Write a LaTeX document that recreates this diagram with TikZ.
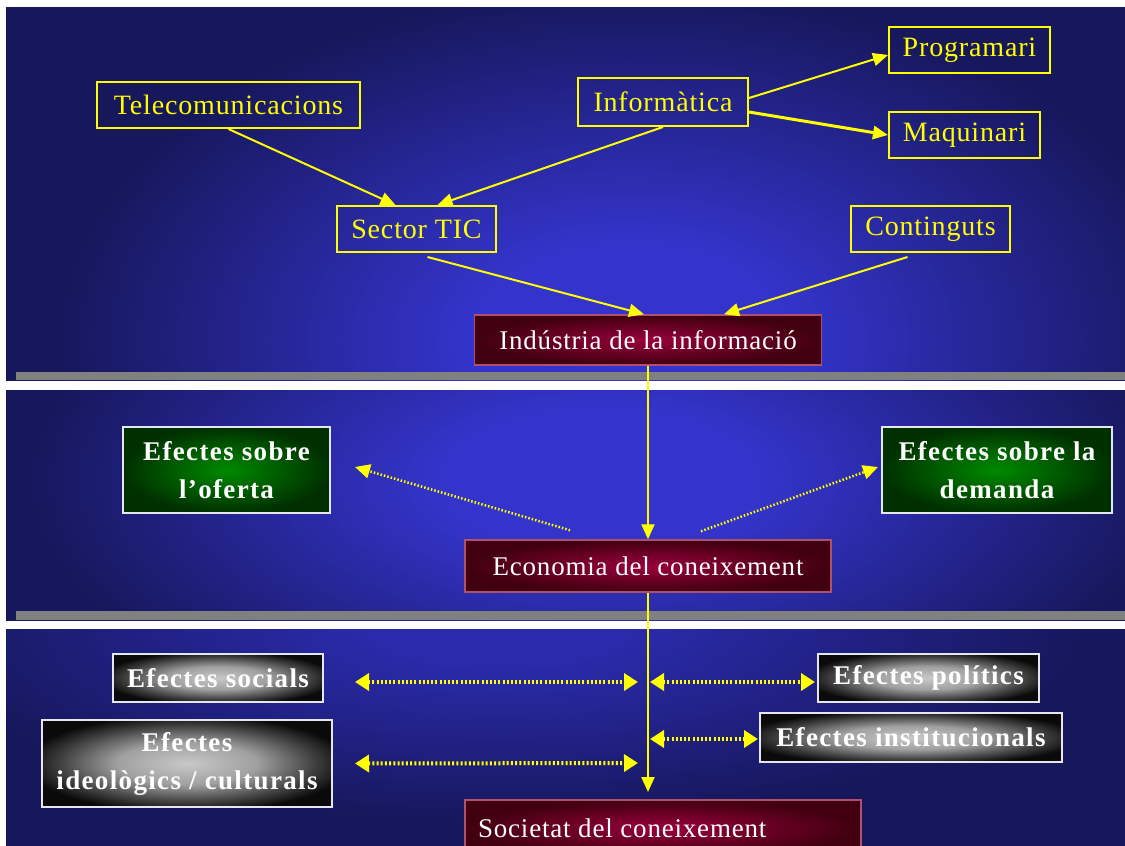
\documentclass[tikz,border=0pt]{standalone}
\usepackage{fontspec}
\setmainfont{Liberation Serif}
\newfontfamily\yfont[LetterSpace=3]{Liberation Serif}
\newfontfamily\bfont[LetterSpace=5]{Liberation Serif Bold}
\usetikzlibrary{arrows.meta,calc}
\definecolor{navy}{HTML}{17175C}
\definecolor{brightblue}{HTML}{3434CC}
\definecolor{midblue}{HTML}{2A2AAA}
\definecolor{ylw}{HTML}{FFFF00}
\definecolor{maroonin}{HTML}{9A003C}
\definecolor{maroonout}{HTML}{40000F}
\definecolor{maroonedge}{HTML}{B05070}
\definecolor{greenin}{HTML}{008A00}
\definecolor{greenout}{HTML}{003000}
\definecolor{grayin}{HTML}{C8C8C8}
\definecolor{grayhi}{HTML}{A0A0A0}
\definecolor{graymid}{HTML}{404040}
\definecolor{grayout}{HTML}{0A0A0A}
\definecolor{boxedge}{HTML}{E6E6F0}
\definecolor{barcol}{HTML}{808080}
\pgfdeclareradialshading{bluepanel}{\pgfpointorigin}{color(0bp)=(brightblue); color(6bp)=(brightblue); color(22bp)=(navy); color(50bp)=(navy)}
\pgfdeclareradialshading{bluepanelb}{\pgfpointorigin}{color(0bp)=(midblue); color(5bp)=(midblue); color(21bp)=(navy); color(50bp)=(navy)}
\pgfdeclareradialshading{maroonsh}{\pgfpointorigin}{color(0bp)=(maroonin); color(25bp)=(maroonout); color(50bp)=(maroonout)}
\pgfdeclareradialshading{greensh}{\pgfpointorigin}{color(0bp)=(greenin); color(25bp)=(greenout); color(50bp)=(greenout)}
\pgfdeclareradialshading{graysh}{\pgfpointorigin}{color(0bp)=(grayin); color(12bp)=(grayhi); color(22bp)=(graymid); color(28bp)=(grayout); color(50bp)=(grayout)}
\begin{document}
\begin{tikzpicture}[x=1pt,y=-1pt,
  ybox/.style={draw=ylw, line width=2pt, text=ylw, inner sep=0pt, font=\yfont\fontsize{28}{32}\selectfont},
  mbox/.style={shade, shading=maroonsh, draw=maroonedge, line width=1.5pt, text=white, inner sep=0pt, font=\yfont\fontsize{27}{32}\selectfont},
  gbox/.style={shade, shading=greensh, draw=boxedge, line width=2pt, text=white, inner sep=0pt, align=center, font=\bfont\fontsize{27}{38}\selectfont},
  kbox/.style={shade, shading=graysh, draw=boxedge, line width=2pt, text=white, inner sep=0pt, align=center, font=\bfont\fontsize{27}{38}\selectfont},
  arr/.style={draw=ylw, line width=2pt, -{Triangle[length=15pt,width=13pt,fill=ylw]}},
  dotarr/.style={draw=ylw, line width=2.5pt, dash pattern=on 1.5pt off 2pt, -{Triangle[length=15pt,width=14pt,fill=ylw]}},
  darr/.style={draw=ylw, line width=4pt, dash pattern=on 2pt off 2.2pt, {Triangle[length=14pt,width=17pt,fill=ylw]}-{Triangle[length=14pt,width=17pt,fill=ylw]}}
]
\useasboundingbox (0,0) rectangle (1125,846);
\fill[white] (0,0) rectangle (1125,846);
% panels
\begin{scope}
  \clip (6,7) rectangle (1125,380);
  \shade[shading=bluepanel] (-20,-60) rectangle (1280,740);
\end{scope}
\fill[barcol] (16,372) rectangle (1125,380);
\begin{scope}
  \clip (6,390) rectangle (1125,620);
  \shade[shading=bluepanel] (-50,180) rectangle (1250,780);
\end{scope}
\fill[barcol] (16,611) rectangle (1125,620);
\begin{scope}
  \clip (6,629) rectangle (1125,846);
  \shade[shading=bluepanelb] (-200,380) rectangle (1200,860);
\end{scope}

% nodes
\node[ybox, minimum width=263, minimum height=46] (tele) at (228.5,105) {Telecomunicacions};
\node[ybox, minimum width=170, minimum height=48] (inf) at (663,102) {Informàtica};
\node[ybox, minimum width=161, minimum height=46] (prog) at (969.5,50) {Programari};
\node[ybox, minimum width=151, minimum height=46] (maq) at (964.5,135) {Maquinari};
\node[ybox, minimum width=159, minimum height=46] (sector) at (416.5,229) {Sector TIC};
\node[ybox, minimum width=159, minimum height=46] (cont) at (930.5,229) {Continguts};
\node[mbox, minimum width=347, minimum height=50] (ind) at (648,340) {Indústria de la informació};
\node[gbox, minimum width=207, minimum height=86] (ofer) at (226.5,470) {Efectes sobre\\l’oferta};
\node[gbox, minimum width=230, minimum height=86] (dem) at (997,470) {Efectes sobre la\\demanda};
\node[mbox, minimum width=366, minimum height=52] (econ) at (648,566) {Economia del coneixement};
\node[kbox, minimum width=210, minimum height=48] (soc) at (218,678) {Efectes socials};
\node[kbox, minimum width=221, minimum height=48] (pol) at (928.5,678) {Efectes polítics};
\node[kbox, minimum width=302, minimum height=49] (inst) at (911,737.5) {Efectes institucionals};
\node[kbox, minimum width=290, minimum height=87] (ideo) at (187,763.5) {Efectes\\ideològics / culturals};
\node[mbox, minimum width=396, minimum height=56] (soci) at (663,828) {\makebox[370pt][l]{Societat del coneixement}};

% coordinates
\coordinate (vend) at (648,792);
\coordinate (j1l) at (638,682);
\coordinate (j1r) at (650,682);
\coordinate (j2r) at (650,739);
\coordinate (j3l) at (638,763);

% connectors
\draw[arr] (tele.south) -- ($(sector.north)+(-21,0)$);
\draw[arr] (inf.south) -- ($(sector.north)+(21,0)$);
\draw[arr] ($(inf.east)+(0,-4)$) -- ($(prog.west)+(0,5)$);
\draw[arr, line width=3pt] ($(inf.east)+(0,10)$) -- (maq.west);
\draw[arr] ($(sector.south)+(11,4)$) -- ($(ind.north)+(-4,0)$);
\draw[arr] ($(cont.south)+(-23,4)$) -- ($(ind.north)+(76,0)$);
\draw[arr] (ind.south) -- (econ.north);
\draw[dotarr] ($(econ.north)+(-78,-9)$) -- ($(ofer.east)+(24,-3)$);
\draw[dotarr] ($(econ.north)+(53,-8)$) -- ($(dem.west)+(-3,-3)$);
\draw[arr] (econ.south) -- (vend);
\draw[darr] ($(soc.east)+(31,4)$) -- (j1l);
\draw[darr] (j1r) -- ($(pol.west)+(-2,4)$);
\draw[darr] (j2r) -- ($(inst.west)+(-1,1.5)$);
\draw[darr] ($(ideo.east)+(22,0)$) -- (j3l);
\end{tikzpicture}
\end{document}
